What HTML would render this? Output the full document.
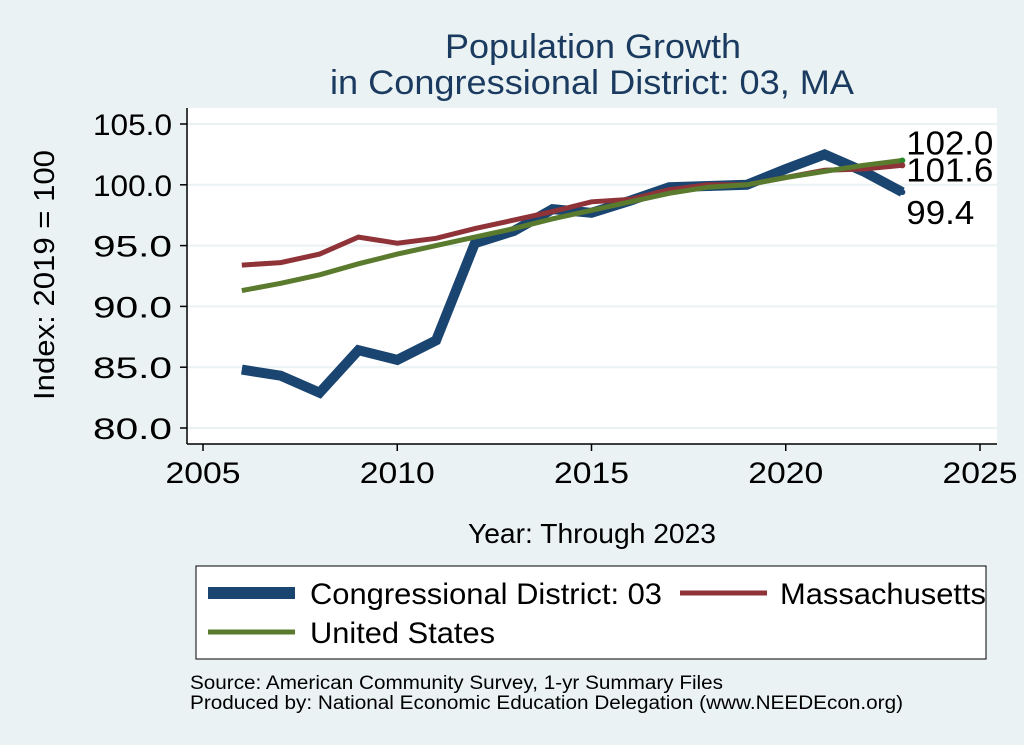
<!DOCTYPE html>
<html><head><meta charset="utf-8"><style>
body{margin:0;background:#eaf2f3;}
svg{display:block;font-family:"Liberation Sans",Arial,sans-serif;}
</style></head><body>
<svg width="1024" height="745" viewBox="0 0 1024 745">
<rect x="0" y="0" width="1024" height="745" fill="#eaf2f3"/>
<text x="593" y="58" font-size="34" fill="#1a3a5f" text-anchor="middle" textLength="296" lengthAdjust="spacingAndGlyphs">Population Growth</text>
<text x="592" y="94" font-size="34" fill="#1a3a5f" text-anchor="middle" textLength="524" lengthAdjust="spacingAndGlyphs">in Congressional District: 03, MA</text>
<rect x="187" y="108" width="810" height="336" fill="#fff"/>
<g id="grid"></g><g id="axes"></g><g id="series"></g>
<text x="54" y="275" font-size="29" fill="#000" text-anchor="middle" textLength="250" lengthAdjust="spacingAndGlyphs" transform="rotate(-90 54 275)">Index: 2019 = 100</text>
<text x="592" y="543" font-size="28" fill="#000" text-anchor="middle" textLength="248" lengthAdjust="spacingAndGlyphs">Year: Through 2023</text>
<g>
<rect x="196" y="566" width="790" height="93" fill="#fff" stroke="#000" stroke-width="1"/>
<line x1="208" y1="593" x2="295" y2="593" stroke="#1a4570" stroke-width="12"/>
<text x="310" y="604" font-size="30" textLength="352" lengthAdjust="spacingAndGlyphs">Congressional District: 03</text>
<line x1="680" y1="593" x2="767" y2="593" stroke="#8f3338" stroke-width="5"/>
<text x="780" y="604" font-size="30" textLength="206" lengthAdjust="spacingAndGlyphs">Massachusetts</text>
<line x1="208" y1="632" x2="295" y2="632" stroke="#5a7a2e" stroke-width="5"/>
<text x="310" y="643" font-size="30" textLength="185" lengthAdjust="spacingAndGlyphs">United States</text>
</g>
<text x="190" y="689" font-size="19" textLength="533" lengthAdjust="spacingAndGlyphs">Source: American Community Survey, 1-yr Summary Files</text>
<text x="190" y="709" font-size="19" textLength="713" lengthAdjust="spacingAndGlyphs">Produced by: National Economic Education Delegation (www.NEEDEcon.org)</text>
</svg>
<script>
const years=[2006,2007,2008,2009,2010,2011,2012,2013,2014,2015,2016,2017,2018,2019,2020,2021,2022,2023];
const cdValues=[84.8,84.3,82.9,86.4,85.6,87.2,95.2,96.2,98.0,97.7,98.7,99.8,99.9,100,101.3,102.5,101.1,99.4];
const maValues=[93.4,93.6,94.3,95.7,95.2,95.6,96.4,97.1,97.8,98.6,98.8,99.6,100.0,100,100.6,101.2,101.3,101.6];
const usValues=[91.3,91.9,92.6,93.5,94.3,95.0,95.7,96.4,97.2,97.9,98.6,99.3,99.8,100,100.6,101.1,101.6,102.0];
const yTicks=[80,85,90,95,100,105];
const xTicks=[2005,2010,2015,2020,2025];
const NS="http://www.w3.org/2000/svg";
const xs=v=>203+(v-2005)*(980-203)/20;
const ys=v=>428-(v-80)*(428-124)/25;
function mk(tag,attrs,parent){const e=document.createElementNS(NS,tag);for(const k in attrs)e.setAttribute(k,attrs[k]);parent.appendChild(e);return e;}
const grid=document.getElementById('grid'),axes=document.getElementById('axes'),series=document.getElementById('series');
yTicks.forEach(t=>{
 const g=mk('line',{x1:187,x2:997,y1:ys(t),y2:ys(t),stroke:'#eaf2f3','stroke-width':2},grid);
 
 
 const tk=mk('line',{x1:180,x2:187,y1:ys(t),y2:ys(t),stroke:'#000','stroke-width':1.5},axes);
 
 
 const tx=mk('text',{x:172,y:ys(t)+11,'font-size':30,'text-anchor':'end',textLength:79,lengthAdjust:'spacingAndGlyphs'},axes);
 tx.textContent=t.toFixed(1);
 
 
});
xTicks.forEach(t=>{
 const tk=mk('line',{x1:xs(t),x2:xs(t),y1:444,y2:451,stroke:'#000','stroke-width':1.5},axes);
 
 
 const tx=mk('text',{x:xs(t),y:483,'font-size':30,'text-anchor':'middle',textLength:75,lengthAdjust:'spacingAndGlyphs'},axes);
 tx.textContent=t;
 
 
});
const ya=mk('line',{x1:187,x2:187,y1:108,y2:444,stroke:'#000','stroke-width':1.5},axes);


const xa=mk('line',{x1:187,x2:997,y1:444,y2:444,stroke:'#000','stroke-width':1.5},axes);


function line(vals,color,w,name){
 const d=vals.map((v,i)=>(i?'L':'M')+xs(years[i]).toFixed(1)+','+ys(v).toFixed(1)).join('');
 const p=mk('path',{d:d,fill:'none',stroke:color,'stroke-width':w,'stroke-linejoin':'miter'},series);
 
 
}
line(cdValues,'#1a4570',10,'cd-line');
line(maValues,'#8f3338',5,'ma-line');
line(usValues,'#5a7a2e',5,'us-line');
const last=years.length-1;
[[usValues,'#2a8a2a',-6,87],[maValues,'#8f3338',16,87],[cdValues,'#1a4570',32,68]].forEach(([vals,c,dy,w])=>{
 const dot=mk('circle',{cx:xs(years[last]),cy:ys(vals[last]),r:3,fill:c},series);
 
 
 const t=mk('text',{x:xs(years[last])+4,y:ys(vals[last])+dy,'font-size':33,textLength:w,lengthAdjust:'spacingAndGlyphs'},series);
 t.textContent=vals[last].toFixed(1);
 
 
});
</script>
</body></html>
